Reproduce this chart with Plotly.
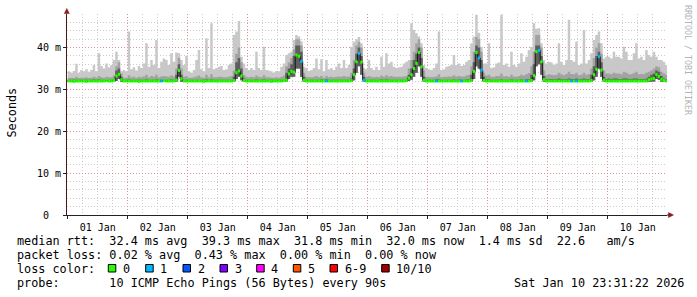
import pandas as pd
import plotly.graph_objects as go

# ---------------- data (hourly, ms) ----------------
hours_start = "2026-01-01 00:00"
n_hours = 240

median = [
32.0,32.0,31.9,32.0,32.0,32.0,32.0,31.9,32.0,32.0,32.0,32.0,32.0,32.0,32.0,32.1,32.0,32.0,32.1,33.2,33.6,32.3,32.0,32.0,
32.0,32.0,32.0,32.0,31.9,32.0,32.0,32.0,32.0,32.0,32.0,32.0,32.0,32.0,32.1,32.0,32.0,32.0,32.0,32.2,34.5,32.5,32.0,32.0,
32.0,32.0,32.0,32.0,32.0,32.0,31.9,32.0,32.0,32.0,32.0,32.0,32.0,32.0,32.0,32.0,32.0,32.0,32.1,34.0,34.4,33.2,32.1,32.0,
32.0,32.0,32.0,32.0,32.0,32.0,32.0,32.0,32.0,31.9,32.0,32.0,32.0,32.0,32.1,32.2,33.7,34.3,34.1,38.2,37.9,36.7,32.2,32.0,
32.0,32.0,32.0,32.0,32.0,32.0,32.0,32.0,32.0,32.0,32.0,32.0,32.0,32.0,32.0,32.0,32.0,32.1,33.5,36.6,38.6,36.5,32.2,32.0,
32.0,32.0,32.0,32.0,32.0,32.0,32.0,32.0,32.0,32.0,32.0,32.0,32.0,32.0,32.0,32.1,32.7,33.5,35.0,36.2,38.8,35.4,32.2,32.0,
32.0,32.0,32.0,32.0,32.0,32.0,32.0,32.0,32.0,32.0,32.0,32.0,32.0,32.0,32.0,32.0,32.0,32.1,34.3,38.8,37.5,34.6,32.1,32.0,
32.0,32.0,32.0,32.0,32.0,32.0,32.0,32.0,32.0,32.0,32.0,32.0,32.0,32.0,32.0,32.0,32.0,32.1,33.3,39.0,39.3,36.6,32.3,32.0,
32.0,32.0,32.0,32.0,32.0,32.0,32.0,32.0,32.0,32.0,32.0,32.0,32.0,32.0,32.0,32.0,32.0,32.1,33.5,34.8,37.8,34.6,32.2,32.0,
32.0,32.0,32.0,32.0,32.0,32.0,32.0,32.0,32.0,32.0,32.0,32.0,32.0,32.0,32.0,32.0,32.3,32.5,32.6,33.5,33.1,32.4,32.1,32.0,
]

smoke_max = [
34.3,34.0,34.4,36.1,33.9,34.6,34.3,34.8,34.2,34.6,35.8,34.3,38.6,35.6,35.0,36.2,35.3,35.8,37.0,39.0,37.0,34.3,34.6,34.3,
43.8,34.8,35.3,34.5,35.6,35.1,36.2,41.0,35.4,37.0,35.8,41.8,35.1,36.6,37.4,37.0,35.8,38.6,36.6,38.8,38.6,37.0,35.8,38.0,
34.3,34.0,34.6,37.0,39.4,34.8,34.3,42.2,35.1,45.8,34.8,35.1,35.4,35.6,34.6,34.8,35.8,36.2,43.0,43.8,46.3,37.8,36.2,35.1,
34.6,35.1,34.6,39.0,35.1,34.6,40.2,34.6,34.5,34.3,34.0,34.4,34.3,35.4,36.2,38.2,38.6,39.0,41.8,43.0,42.6,41.5,35.4,35.1,
34.4,34.6,35.1,37.4,34.8,37.2,34.3,37.0,34.8,35.1,34.6,35.4,36.2,35.1,37.0,35.1,35.8,40.2,41.4,42.0,42.5,41.0,35.1,34.8,
37.0,35.1,34.6,35.4,34.6,37.8,35.4,38.6,36.2,36.6,35.4,35.1,35.3,35.4,36.2,36.6,37.0,45.8,44.2,43.4,42.6,41.0,35.8,35.1,
34.8,34.6,35.1,36.2,43.8,34.6,34.8,35.4,35.6,35.8,38.2,35.8,36.2,35.6,35.8,36.6,37.0,41.0,42.6,47.8,43.5,40.2,36.2,36.2,
41.0,35.1,35.3,36.2,36.4,47.8,35.8,36.2,35.4,39.0,35.8,35.4,36.2,38.6,36.6,37.8,39.4,40.2,45.8,44.5,44.6,41.0,37.0,36.2,
36.6,36.4,35.8,36.2,41.0,36.6,35.8,37.0,46.6,37.0,36.6,41.4,35.8,36.2,44.2,36.2,37.0,38.6,41.8,43.0,43.8,41.0,37.4,37.8,
37.8,37.4,39.0,37.8,37.8,37.4,40.2,39.0,37.0,37.0,38.6,41.0,37.4,37.8,37.0,39.4,38.2,37.8,39.0,37.8,37.0,37.0,36.6,35.8,
]

smoke_mid = [
32.7,32.8,32.7,33.0,32.7,32.8,32.8,32.9,32.7,32.8,33.0,32.8,33.2,32.9,32.8,33.0,32.9,32.9,33.3,35.5,36.5,33.8,32.8,32.8,
33.4,32.9,33.0,32.8,33.0,32.9,33.1,33.5,32.9,33.2,33.0,33.5,32.9,33.1,33.2,33.1,33.0,33.4,33.1,35.0,37.5,35.0,33.0,33.2,
32.8,32.8,32.9,33.1,33.3,32.9,32.8,33.5,32.9,33.6,32.9,32.9,33.0,33.0,32.9,32.9,33.0,33.2,34.5,38.5,40.0,36.5,33.5,33.0,
32.9,33.0,32.9,33.3,33.0,32.9,33.4,32.9,32.9,32.8,32.8,32.9,32.8,33.0,33.3,35.5,36.5,37.5,39.5,42.0,42.0,40.5,34.0,33.0,
32.9,32.9,33.0,33.2,32.9,33.2,32.8,33.2,32.9,33.0,32.9,33.0,33.1,33.0,33.2,33.0,33.1,34.0,37.0,40.5,41.4,40.0,34.0,33.0,
33.2,33.0,32.9,33.0,32.9,33.3,33.0,33.4,33.1,33.2,33.0,33.0,33.0,33.0,33.1,33.2,35.0,37.0,39.0,41.0,42.0,40.0,34.5,33.0,
33.0,32.9,33.0,33.1,33.6,32.9,33.0,33.0,33.1,33.1,33.4,33.1,33.2,33.1,33.1,33.3,33.5,35.5,39.0,42.5,42.0,39.0,34.0,33.3,
33.5,33.0,33.0,33.2,33.2,33.8,33.1,33.2,33.0,33.5,33.1,33.0,33.2,33.5,33.3,33.6,33.9,35.5,39.0,43.0,43.0,40.0,34.5,33.4,
33.6,33.5,33.4,33.5,34.0,33.6,33.4,33.7,34.2,33.7,33.6,34.0,33.4,33.5,34.0,33.5,33.7,35.0,37.5,40.0,41.0,38.5,34.5,33.8,
33.8,33.6,34.0,33.8,33.8,33.6,34.2,34.0,33.6,33.6,33.9,34.2,33.6,33.7,33.6,34.0,34.2,34.5,35.0,35.5,35.3,34.2,33.8,33.5,
]

smoke_dark = [
32.3,32.3,32.3,32.3,32.3,32.3,32.3,32.3,32.3,32.3,32.4,32.3,32.4,32.3,32.3,32.3,32.3,32.3,32.4,34.5,35.0,33.0,32.3,32.3,
32.4,32.3,32.3,32.3,32.3,32.3,32.3,32.4,32.3,32.3,32.3,32.4,32.3,32.3,32.4,32.3,32.3,32.4,32.3,33.5,36.0,33.5,32.3,32.3,
32.3,32.3,32.3,32.3,32.3,32.3,32.3,32.4,32.3,32.4,32.3,32.3,32.3,32.3,32.3,32.3,32.3,32.3,33.0,36.5,37.5,35.0,32.6,32.3,
32.3,32.3,32.3,32.4,32.3,32.3,32.4,32.3,32.3,32.3,32.3,32.3,32.3,32.3,32.4,34.0,35.0,36.0,38.0,40.5,40.5,39.0,33.0,32.3,
32.3,32.3,32.3,32.3,32.3,32.4,32.3,32.4,32.3,32.3,32.3,32.3,32.3,32.3,32.3,32.3,32.3,32.6,35.0,38.5,40.0,38.0,33.0,32.3,
32.3,32.3,32.3,32.3,32.3,32.4,32.3,32.4,32.3,32.3,32.3,32.3,32.3,32.3,32.3,32.4,33.5,35.0,37.0,38.5,40.0,37.5,33.0,32.3,
32.3,32.3,32.3,32.4,32.4,32.3,32.3,32.3,32.3,32.3,32.4,32.3,32.4,32.3,32.3,32.4,32.4,33.5,36.5,40.5,40.0,37.0,33.0,32.4,
32.4,32.3,32.3,32.3,32.3,32.4,32.3,32.3,32.3,32.4,32.3,32.3,32.3,32.4,32.3,32.4,32.5,33.5,36.0,40.5,40.5,38.0,33.2,32.4,
32.5,32.5,32.4,32.5,32.6,32.5,32.4,32.5,32.6,32.5,32.5,32.6,32.4,32.5,32.6,32.5,32.5,33.5,35.5,38.0,39.0,36.5,33.0,32.5,
32.6,32.5,32.6,32.6,32.5,32.5,32.6,32.6,32.5,32.5,32.6,32.6,32.5,32.5,32.5,32.6,33.0,33.5,33.8,34.5,34.2,33.2,32.6,32.5,
]

smoke_min = [
31.8,31.8,31.8,31.8,31.8,31.8,31.8,31.8,31.8,31.8,31.8,31.8,31.8,31.8,31.8,31.8,31.8,31.8,31.8,32.0,32.5,31.8,31.8,31.8,
31.8,31.8,31.8,31.8,31.8,31.8,31.8,31.8,31.8,31.8,31.8,31.8,31.8,31.8,31.8,31.8,31.8,31.8,31.8,31.8,33.0,31.8,31.8,31.8,
31.8,31.8,31.8,31.8,31.8,31.8,31.8,31.8,31.8,31.8,31.8,31.8,31.8,31.8,31.8,31.8,31.8,31.8,31.8,32.5,33.0,32.2,31.8,31.8,
31.8,31.8,31.8,31.8,31.8,31.8,31.8,31.8,31.8,31.8,31.8,31.8,31.8,31.8,31.8,31.9,32.5,33.0,33.0,35.0,35.0,33.0,31.8,31.8,
31.8,31.8,31.8,31.8,31.8,31.8,31.8,31.8,31.8,31.8,31.8,31.8,31.8,31.8,31.8,31.8,31.8,31.8,32.2,34.0,35.5,33.5,31.8,31.8,
31.8,31.8,31.8,31.8,31.8,31.8,31.8,31.8,31.8,31.8,31.8,31.8,31.8,31.8,31.8,31.8,32.0,32.3,33.0,34.0,35.5,33.0,31.8,31.8,
31.8,31.8,31.8,31.8,31.8,31.8,31.8,31.8,31.8,31.8,31.8,31.8,31.8,31.8,31.8,31.8,31.8,31.8,32.5,35.5,35.0,32.5,31.8,31.8,
31.8,31.8,31.8,31.8,31.8,31.8,31.8,31.8,31.8,31.8,31.8,31.8,31.8,31.8,31.8,31.8,31.8,31.8,32.2,35.5,36.0,33.5,31.8,31.8,
31.8,31.8,31.8,31.8,31.8,31.8,31.8,31.8,31.8,31.8,31.8,31.8,31.8,31.8,31.8,31.8,31.8,31.8,32.2,33.0,35.0,33.0,31.8,31.8,
31.8,31.8,31.8,31.8,31.8,31.8,31.8,31.8,31.8,31.8,31.8,31.8,31.8,31.8,31.8,31.8,31.8,31.8,31.9,32.5,32.3,31.8,31.8,31.8,
]

loss = [
0,0,0,0,0,0,0,0,0,0,0,0,0,0,0,0,0,0,0,0,0,0,0,0,
0,0,0,0,0,0,0,0,0,0,0,0,0,1,0,0,0,0,0,0,0,0,0,0,
0,0,0,0,0,0,0,0,0,0,0,0,0,0,0,0,0,0,0,0,0,0,0,0,
0,0,0,0,0,0,0,0,0,0,0,0,0,0,0,0,0,0,0,0,0,1,0,0,
0,0,0,0,0,0,0,1,0,0,0,0,0,0,0,0,0,0,0,0,1,0,1,0,
0,0,0,0,0,0,0,0,0,0,0,0,0,0,0,0,0,0,0,0,0,0,0,0,
0,0,0,1,0,0,0,0,0,0,0,0,0,1,0,0,0,0,0,0,1,1,0,0,
0,0,0,0,0,0,0,0,0,0,0,0,0,0,0,1,0,0,0,0,1,0,0,0,
0,0,0,0,0,0,0,0,0,1,0,1,0,0,0,0,0,0,0,0,1,0,0,0,
0,0,0,0,0,0,0,0,0,0,0,0,0,0,0,0,0,0,0,0,0,0,0,0,
]

loss_labels = ["0", "1", "2", "3", "4", "5", "6-9", "10/10"]
loss_colors = ["#26ff00", "#00b8ff", "#0059ff", "#7e00ff", "#ff00ff", "#ff5500", "#ff0000", "#a10000"]

y_tickvals = [0, 10, 20, 30, 40]
y_ticktext = ["0\u00a0\u00a0", "10 m", "20 m", "30 m", "40 m"]

legend_lines = [
    "median rtt:  32.4 ms avg  39.3 ms max  31.8 ms min  32.0 ms now  1.4 ms sd  22.6   am/s",
    "packet loss: 0.02 % avg  0.43 % max  0.00 % min  0.00 % now",
    "loss color:",
    "probe:       10 ICMP Echo Pings (56 Bytes) every 90s",
]
stamp = "Sat Jan 10 23:31:22 2026"
credit = "RRDTOOL / TOBI OETIKER"

# ---------------- layout geometry (pixels) ----------------
FW, FH = 697, 297
L, T, W, H = 67, 14, 600, 201
MONO = "DejaVu Sans Mono"


def px(x):
    return (x - L) / W


def py(y):
    return (T + H - y) / H


edges = pd.date_range(hours_start, periods=n_hours + 1, freq="h")


def ext(a):
    return list(a) + [a[-1]]


fig = go.Figure()

bands = [(smoke_max, "#c8c8c8"), (smoke_mid, "#a2a2a2"), (smoke_dark, "#5e5e5e")]
for top, col in bands:
    fig.add_trace(go.Scatter(x=edges, y=ext(smoke_min), mode="lines",
                             line=dict(width=0, shape="hv"), hoverinfo="skip", showlegend=False))
    fig.add_trace(go.Scatter(x=edges, y=ext(top), mode="lines", fill="tonexty", fillcolor=col,
                             line=dict(width=0, shape="hv"), hoverinfo="skip", showlegend=False))

fig.add_trace(go.Scatter(x=edges, y=ext(median), mode="lines",
                         line=dict(color="#111111", width=1, shape="hv"),
                         hoverinfo="skip", showlegend=False))

for cls in sorted(set(loss)):
    sx, sy = [], []
    for i in range(n_hours):
        if loss[i] == cls:
            sx += [edges[i], edges[i + 1], None]
            sy += [median[i], median[i], None]
    fig.add_trace(go.Scatter(x=sx, y=sy, mode="lines",
                             line=dict(color=loss_colors[cls], width=3),
                             hoverinfo="skip", showlegend=False))

annotations = []
line_y = [241, 255, 268.5, 283]
for txt, yy in zip(legend_lines, line_y):
    annotations.append(dict(text=txt, x=px(15.5), y=py(yy), xref="paper", yref="paper",
                            xanchor="left", yanchor="middle", showarrow=False, borderpad=0,
                            font=dict(family=MONO, size=11.8, color="#000000")))
annotations.append(dict(text=stamp, x=px(513), y=py(283), xref="paper", yref="paper",
                        xanchor="left", yanchor="middle", showarrow=False, borderpad=0,
                        font=dict(family=MONO, size=11.8, color="#000000")))
annotations.append(dict(text="Seconds", x=px(11), y=py(112.5), xref="paper", yref="paper",
                        xanchor="center", yanchor="middle", showarrow=False, textangle=-90,
                        font=dict(family=MONO, size=11.8, color="#000000")))
annotations.append(dict(text=credit, x=px(688), y=py(60), xref="paper", yref="paper",
                        xanchor="center", yanchor="middle", showarrow=False, textangle=90,
                        font=dict(family=MONO, size=8.3, color="#b4b4b4")))

shapes = []
box_x = [108.3, 145.7, 183.0, 220.0, 256.7, 293.3, 330.0, 381.7]
for bx, lab, col in zip(box_x, loss_labels, loss_colors):
    shapes.append(dict(type="rect", xref="paper", yref="paper",
                       x0=px(bx), x1=px(bx + 7.5), y0=py(272), y1=py(264.5),
                       fillcolor=col, line=dict(color="#000000", width=1)))
    annotations.append(dict(text=lab, x=px(bx + 13.5), y=py(268.5), xref="paper", yref="paper",
                            xanchor="left", yanchor="middle", showarrow=False, borderpad=0,
                            font=dict(family=MONO, size=11.8, color="#000000")))

arrow_col = "#8b1a1a"
shapes.append(dict(type="path", xref="paper", yref="paper", fillcolor=arrow_col,
                   line=dict(color=arrow_col, width=0.5),
                   path=f"M {px(64.3)},{py(13.5)} L {px(69.3)},{py(13.5)} L {px(66.8)},{py(8.5)} Z"))
shapes.append(dict(type="path", xref="paper", yref="paper", fillcolor=arrow_col,
                   line=dict(color=arrow_col, width=0.5),
                   path=f"M {px(668.5)},{py(212.5)} L {px(668.5)},{py(217.5)} L {px(673.5)},{py(215)} Z"))
shapes.append(dict(type="line", xref="paper", yref="paper", x0=px(667), x1=px(669),
                   y0=py(215), y1=py(215), line=dict(color="#222222", width=1)))

grid_major = "#dc9090"
grid_minor = "#cccccc"

fig.update_layout(
    width=FW, height=FH,
    margin=dict(l=L, r=FW - L - W, t=T, b=FH - T - H, pad=0),
    paper_bgcolor="#ffffff", plot_bgcolor="#ffffff",
    showlegend=False,
    annotations=annotations, shapes=shapes,
    xaxis=dict(
        type="date",
        range=["2025-12-31 23:43", "2026-01-10 23:43"],
        tick0="2026-01-01", dtick=86400000, tickformat="%d %b", ticklabelmode="period",
        showgrid=True, gridcolor=grid_major, griddash="1px,2px", gridwidth=1,
        ticks="outside", ticklen=3, tickcolor="#222222",
        showline=True, linecolor="#222222", linewidth=1,
        tickfont=dict(family=MONO, size=10, color="#000000"),
        minor=dict(dtick=21600000, showgrid=True, gridcolor=grid_minor, griddash="1px,2px", ticks=""),
        zeroline=False, fixedrange=True,
    ),
    yaxis=dict(
        range=[0, 48],
        tickvals=y_tickvals, ticktext=y_ticktext,
        showgrid=True, gridcolor=grid_major, griddash="1px,2px", gridwidth=1,
        ticks="outside", ticklen=3, tickcolor="#222222",
        showline=True, linecolor="#4a1a1a", linewidth=1,
        tickfont=dict(family=MONO, size=10, color="#000000"),
        minor=dict(dtick=2, showgrid=True, gridcolor=grid_minor, griddash="1px,2px", ticks=""),
        zeroline=False, fixedrange=True,
    ),
)

fig.write_html("out.html")
